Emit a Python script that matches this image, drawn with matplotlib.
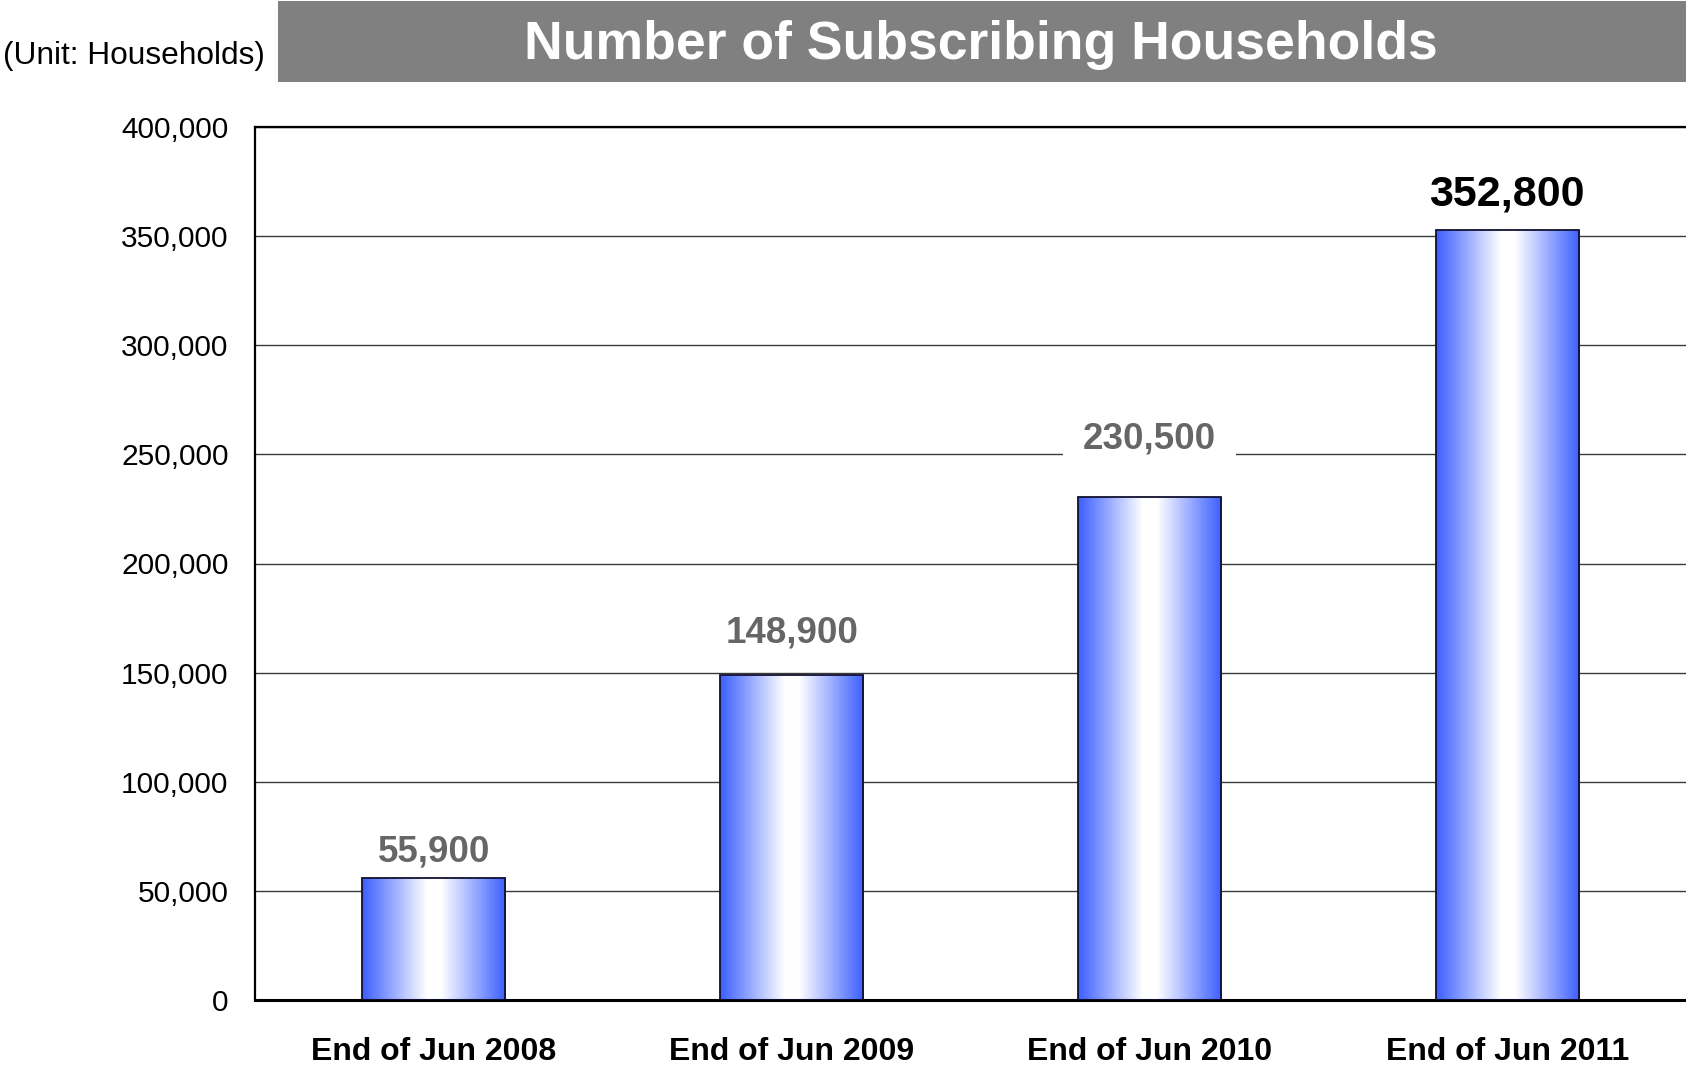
import matplotlib
matplotlib.use("Agg")
import matplotlib.pyplot as plt
from matplotlib.colors import LinearSegmentedColormap
from matplotlib.patches import Rectangle
import numpy as np

plt.rcParams['font.family'] = ['Liberation Sans', 'DejaVu Sans']

# Data
categories = ["End of Jun 2008", "End of Jun 2009", "End of Jun 2010", "End of Jun 2011"]
households = [55900, 148900, 230500, 352800]
value_labels = ["55,900", "148,900", "230,500", "352,800"]
y_ticks = [0, 50000, 100000, 150000, 200000, 250000, 300000, 350000, 400000]

# Label styling (last period emphasised)
label_colors = ["#666666", "#666666", "#666666", "#000000"]
label_sizes = [26.5, 26.5, 26.5, 31]
label_offsets = [6, 18, 29, 11]  # points above bar top
label_boxed = [False, False, True, False]  # white backing over the gridline

fig = plt.figure(figsize=(16.86, 10.70), dpi=100)
ax = fig.add_axes([255 / 1686, 70 / 1070, 1 - 255 / 1686, (1000 - 127) / 1070])

# Title banner
fig.patches.append(Rectangle((278 / 1686, 1 - 82 / 1070), 1 - 278 / 1686, 81 / 1070,
                             transform=fig.transFigure, facecolor="#808080",
                             edgecolor="none", zorder=0))
fig.text(981 / 1686, 1 - 45 / 1070, "Number of Subscribing Households",
         ha="center", va="center", color="white", fontsize=38.5, fontweight="bold")
fig.text(3 / 1686, 1 - 56 / 1070, "(Unit: Households)", ha="left", va="center",
         color="black", fontsize=22.8)

# Horizontal gradient: blue edges, white centre
grad_cmap = LinearSegmentedColormap.from_list(
    "bar_grad", [(0.0, "#3d5eff"), (0.12, "#6f89ff"), (0.45, "#ffffff"),
                 (0.55, "#ffffff"), (0.88, "#6f89ff"), (1.0, "#3d5eff")])
gradient = np.linspace(0, 1, 256).reshape(1, -1)

x = np.arange(len(categories))
width = 0.40
bars = ax.bar(x, households, width=width, facecolor="none", edgecolor="#101030",
              linewidth=1.3, zorder=3)
for bar in bars:
    bx, by = bar.get_x(), bar.get_y()
    bw, bh = bar.get_width(), bar.get_height()
    im = ax.imshow(gradient, cmap=grad_cmap, aspect="auto",
                   extent=[bx, bx + bw, by, by + bh], zorder=2,
                   interpolation="bilinear")
    im.set_clip_path(bar)

# Value labels sit above the grid but beneath the bars
for xi, val, txt, col, sz, off, boxed in zip(x, households, value_labels, label_colors,
                                             label_sizes, label_offsets, label_boxed):
    box = dict(boxstyle="square,pad=0.55", facecolor="white",
               edgecolor="none") if boxed else None
    ax.annotate(txt, (xi, val), xytext=(0, off), textcoords="offset points",
                ha="center", va="bottom", fontsize=sz, fontweight="bold", color=col,
                bbox=box, zorder=1.5)

ax.set_xlim(-0.5, len(categories) - 0.5)
ax.set_ylim(0, 400000)
ax.set_yticks(y_ticks)
ax.set_yticklabels([f"{v:,}" for v in y_ticks])
ax.set_xticks(x)
ax.set_xticklabels(categories, fontweight="bold")
ax.tick_params(axis="y", length=0, pad=19, labelsize=21.5, colors="black")
ax.tick_params(axis="x", length=0, pad=27, labelsize=23, colors="black")

ax.yaxis.grid(True, color="#3a3a3a", linewidth=1.0, zorder=0.5)
ax.set_axisbelow(True)
ax.spines["right"].set_visible(False)
ax.spines["left"].set_linewidth(1.6)
ax.spines["top"].set_linewidth(1.6)
ax.spines["bottom"].set_linewidth(2.2)
for s in ax.spines.values():
    s.set_color("black")
ax.set_facecolor("white")

fig.savefig("out.png", dpi=100, facecolor="white")
